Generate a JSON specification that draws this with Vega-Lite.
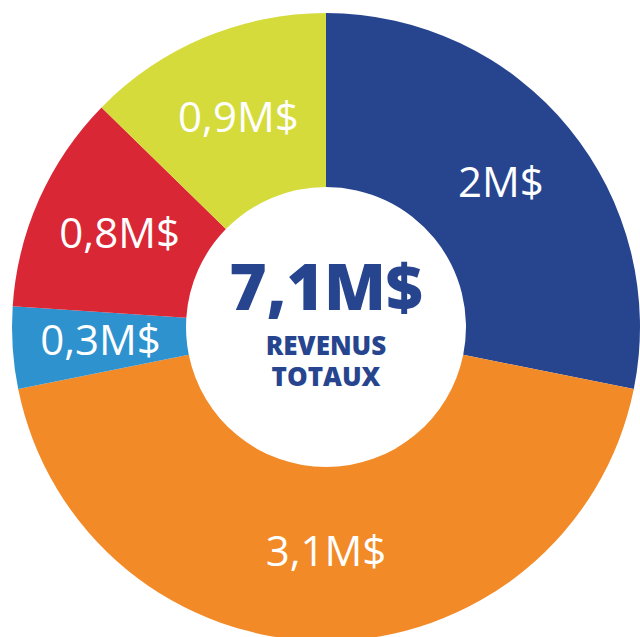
{
  "$schema": "https://vega.github.io/schema/vega-lite/v6.json",
  "width": 640,
  "height": 637,
  "autosize": {"type": "fit", "contains": "padding"},
  "padding": {"left": 12, "top": 17, "right": 0, "bottom": 0},
  "background": "white",
  "view": {"stroke": null},
  "layer": [
    {
      "data": {"values": [
        {"cat": "A", "ord": 1, "value": 2.0, "label": "2M$"},
        {"cat": "B", "ord": 2, "value": 3.1, "label": "3,1M$"},
        {"cat": "C", "ord": 3, "value": 0.3, "label": "0,3M$"},
        {"cat": "D", "ord": 4, "value": 0.8, "label": "0,8M$"},
        {"cat": "E", "ord": 5, "value": 0.9, "label": "0,9M$"}
      ]},
      "encoding": {
        "theta": {"field": "value", "type": "quantitative", "stack": true},
        "order": {"field": "ord", "type": "quantitative"},
        "color": {
          "field": "cat", "type": "nominal", "legend": null,
          "scale": {"domain": ["A", "B", "C", "D", "E"], "range": ["#27458F", "#F28A27", "#2E92CF", "#D92736", "#D5DB3A"]}
        }
      },
      "layer": [
        {"mark": {"type": "arc", "outerRadius": 314, "innerRadius": 140}},
        {
          "mark": {"type": "text", "radius": 226, "font": "Open Sans", "fontSize": 42, "color": "white", "baseline": "middle", "align": "center"},
          "encoding": {"text": {"field": "label"}, "color": {"value": "white"}}
        }
      ]
    },
    {
      "data": {"values": [
        {"t": "7,1M$"}
      ]},
      "mark": {"type": "text", "font": "Open Sans", "fontWeight": 800, "fontSize": 64, "color": "#27458F", "baseline": "middle", "align": "center", "dy": -36},
      "encoding": {"text": {"field": "t"}}
    },
    {
      "data": {"values": [
        {"t1": "REVENUS", "t2": "TOTAUX"}
      ]},
      "mark": {"type": "text", "font": "Open Sans", "fontWeight": 800, "fontSize": 26, "lineHeight": 31, "color": "#27458F", "baseline": "middle", "align": "center", "dy": 20},
      "encoding": {"text": {"value": ["REVENUS", "TOTAUX"]}}
    }
  ]
}
